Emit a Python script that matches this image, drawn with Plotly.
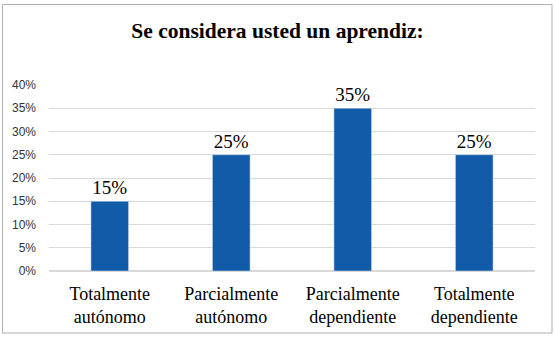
import plotly.graph_objects as go

categories = ["Totalmente<br>autónomo", "Parcialmente<br>autónomo", "Parcialmente<br>dependiente", "Totalmente<br>dependiente"]
values = [0.15, 0.25, 0.35, 0.25]
labels = ["15%", "25%", "35%", "25%"]
tick_vals = [0, 0.05, 0.10, 0.15, 0.20, 0.25, 0.30, 0.35, 0.40]
tick_text = ["0%", "5%", "10%", "15%", "20%", "25%", "30%", "35%", "40%"]
title = "Se considera usted un aprendiz:"

W, H = 555, 338
ml, mr, mt, mb = 49, 20, 85, 67
pw, ph = W - ml - mr, H - mt - mb

fig = go.Figure(go.Bar(
    x=categories, y=values, text=labels, textposition="outside",
    textfont=dict(family="Liberation Serif", size=19, color="#000000"),
    marker=dict(color="#115BA8"), width=0.31, cliponaxis=False,
))

def px2x(p):
    return (p - ml) / pw

def px2y(p):
    return (H - mb - p) / ph

fig.update_layout(
    width=W, height=H,
    margin=dict(l=ml, r=mr, t=mt, b=mb),
    paper_bgcolor="white", plot_bgcolor="white",
    title=dict(text="<b>" + title + "</b>", x=0.5, xanchor="center", y=1 - 30 / H, yanchor="middle",
               font=dict(family="Liberation Serif", size=21.5, color="#000000")),
    xaxis=dict(tickfont=dict(family="Liberation Serif", size=18, color="#000000"),
               showline=False, showgrid=False, ticks="", ticklabelstandoff=10),
    yaxis=dict(range=[0, 0.4], tickvals=tick_vals, ticktext=tick_text,
               tickfont=dict(family="Liberation Sans", size=12, color="#333333"),
               showgrid=True, gridcolor="#d9d9d9", gridwidth=1, zeroline=True,
               zerolinecolor="#d9d9d9", ticks="", ticklabelstandoff=12),
    showlegend=False, bargap=0.69,
    shapes=[dict(type="rect", xref="paper", yref="paper",
                 x0=px2x(2.5), x1=px2x(552), y0=px2y(333), y1=px2y(4.5),
                 line=dict(color="#b0b0b0", width=1), fillcolor="rgba(0,0,0,0)", layer="above")],
)

fig.write_html("out.html", config={"displayModeBar": False},
               post_script="document.body.style.margin='0';document.body.style.padding='0';")
